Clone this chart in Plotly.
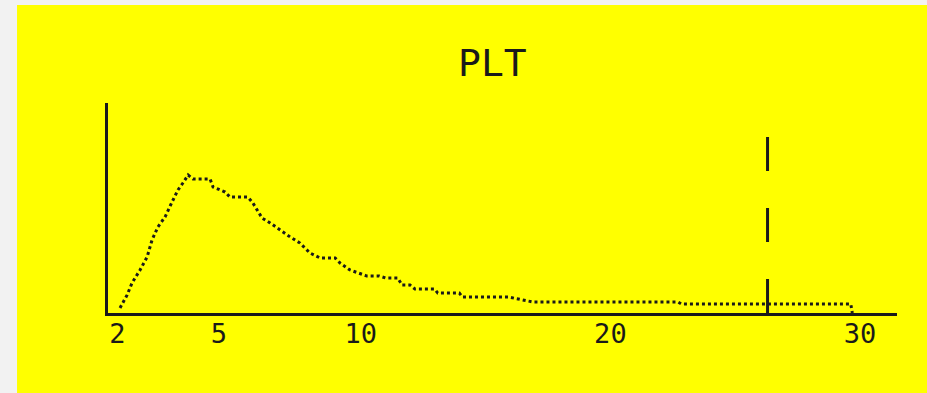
import plotly.graph_objects as go

# PLT size-distribution histogram, plotted on analyzer channel numbers (0-256)
channels = [3.9, 6.2, 7.8, 10.4, 12.7, 14.3, 16.2, 18.5, 20.8, 22.7, 24.3, 26, 27.6, 33.1,
            34.1, 38, 39.6, 45.4, 47, 50, 52.6, 55.8, 59.1, 62.3, 65.5, 68.8, 73.7, 75.3,
            78.5, 84, 88, 90, 94, 95.4, 98, 99.6, 106, 107, 114, 115, 130, 138, 185, 186,
            241, 241.5]
counts = [2.4, 8.6, 14.3, 20.5, 26.7, 34.8, 41, 45.7, 52.9, 58.6, 61.9, 65.7, 63.8, 63.8,
          60, 57.6, 55.2, 55.2, 52.4, 45.2, 42.9, 39.5, 36.2, 33.3, 28.6, 26.2, 26.2, 23.8,
          20.5, 17.6, 17.6, 16.7, 16.7, 13.3, 13.3, 11.4, 11.4, 9.5, 9.5, 7.6, 7.6, 5.2,
          5.2, 4.3, 4.3, 0]

# volume labels (fL) and the channels they sit at
tick_channels = [3, 36, 82, 163, 244]
tick_labels = ["2", "5", "10", "20", "30"]

# upper discriminator channel
discriminator = 214
discriminator_top = 84.8

INK = "#1a1a1a"
MONO = "DejaVu Sans Mono, Liberation Mono, monospace"

fig = go.Figure()
fig.add_trace(go.Scatter(
    x=channels, y=counts, mode="lines",
    line=dict(color=INK, width=3, dash="dot"),
    hoverinfo="skip", showlegend=False,
))

# yellow print area on a light grey page
fig.add_shape(type="rect", xref="paper", yref="paper",
              x0=-0.1153, x1=1.05, y0=-0.40, y1=1.4667,
              fillcolor="#ffff00", line_width=0, layer="below")

# dashed discriminator marker
fig.add_shape(type="line", xref="x", yref="y",
              x0=discriminator, x1=discriminator, y0=0, y1=discriminator_top,
              line=dict(color=INK, width=3, dash="34px,37px"))

fig.add_annotation(text="PLT", xref="paper", yref="paper", x=0.4867, y=1.19,
                   xanchor="center", yanchor="middle", showarrow=False,
                   font=dict(family=MONO, size=38, color=INK))

fig.update_layout(
    width=927, height=393,
    margin=dict(l=108, r=30, t=103, b=80),
    paper_bgcolor="#f2f2f2", plot_bgcolor="rgba(0,0,0,0)",
    xaxis=dict(range=[0, 256], showgrid=False, zeroline=False,
               showline=True, linecolor=INK, linewidth=3,
               tickmode="array", tickvals=tick_channels, ticktext=tick_labels,
               ticks="", ticklabelstandoff=-5,
               tickfont=dict(family=MONO, size=27, color=INK)),
    yaxis=dict(range=[0, 100], showgrid=False, zeroline=False,
               showline=True, linecolor=INK, linewidth=3,
               showticklabels=False, ticks=""),
)

fig.write_html("out.html")
